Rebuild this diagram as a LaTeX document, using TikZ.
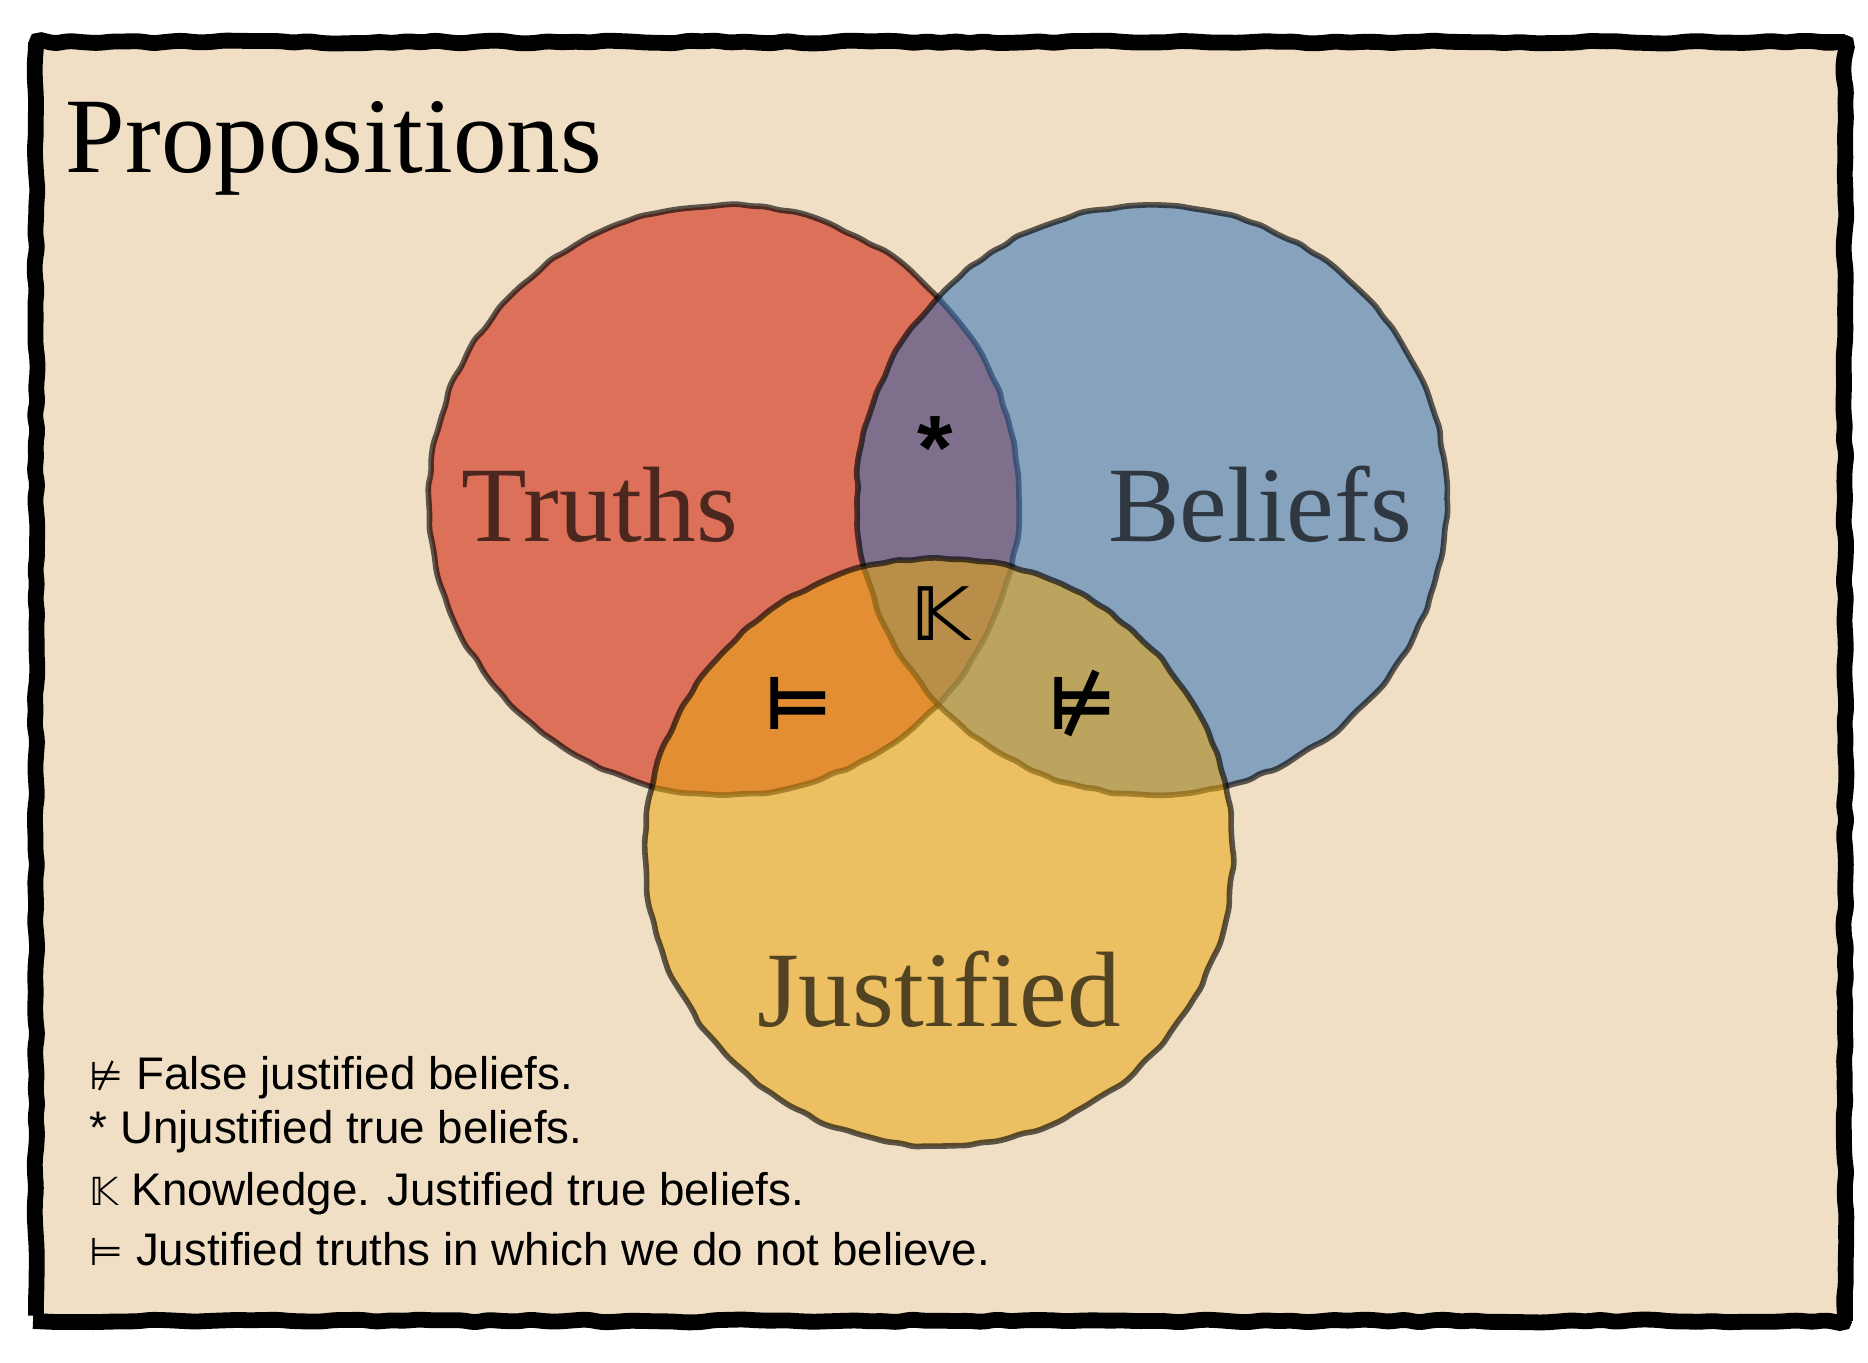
\documentclass[tikz,border=0pt]{standalone}
\usepackage{fontspec}
\setmainfont{Liberation Serif}
\setsansfont{Liberation Sans}
\newfontfamily\symfont{DejaVu Sans}
\usetikzlibrary{decorations.pathmorphing}

\definecolor{paper}{RGB}{240,223,196}
\definecolor{truthred}{RGB}{205,21,2}
\definecolor{beliefblue}{RGB}{49,112,185}
\definecolor{justyellow}{RGB}{233,167,18}

\begin{document}
\pgfmathsetseed{11}
\begin{tikzpicture}[
  x=0.01cm, y=0.01cm,
  wobbly/.style={decorate, decoration={random steps, segment length=4pt, amplitude=0.45pt}, rounded corners=1.5pt},
  frame/.style={wobbly, draw=black, line width=4.5pt, fill=paper},
  set/.style={wobbly, draw=black, draw opacity=0.62, line width=1.6pt, fill opacity=0.55},
  setname/.style={font=\fontsize{30.5}{36}\selectfont, text opacity=0.65, inner sep=0pt, anchor=base},
  region/.style={inner sep=0pt, font=\symfont\bfseries\fontsize{21}{25}\selectfont},
  legend/.style={font=\sffamily\fontsize{13}{15}\selectfont, anchor=base west, inner sep=0pt}
]
\fill[white] (0,0) rectangle (1868,1363);
\useasboundingbox (0,0) rectangle (1868,1363);
\draw[frame] (36,42) rectangle (1845,1321);

\node[anchor=base west, inner sep=0pt, font=\fontsize{30.5}{36}\selectfont] (title) at (65,1190) {Propositions};

% the three sets
\draw[set, fill=truthred] (724,863) circle (295);
\draw[set, fill=beliefblue] (1152,863) circle (295);
\draw[set, fill=justyellow] (939,511) circle (294);

\node[setname] (truths) at (600,821) {Truths};
\node[setname] (beliefs) at (1260,821) {Beliefs};
\node[setname] (justified) at (939,336) {Justified};

% regions
\node[region, font=\sffamily\bfseries\fontsize{26}{30}\selectfont] (unjust) at (935,915) {*};
\node[region] (know) at (941,749) {𝕂};
\node[region] (jtruth) at (798,660) {⊨};
\node[region] (jfalse) at (1082,660) {⊭};

% legend
\node[legend] (l1) at (89,273) {{\symfont\fontsize{11}{13}\selectfont ⊭} False justified beliefs.};
\node[legend] (l2) at (89,219) {* Unjustified true beliefs.};
\node[legend] (l3) at (89,157) {{\symfont\fontsize{11}{13}\selectfont 𝕂} Knowledge. Justified true beliefs.};
\node[legend] (l4) at (89,97) {{\symfont\fontsize{11}{13}\selectfont ⊨} Justified truths in which we do not believe.};
\end{tikzpicture}
\end{document}
